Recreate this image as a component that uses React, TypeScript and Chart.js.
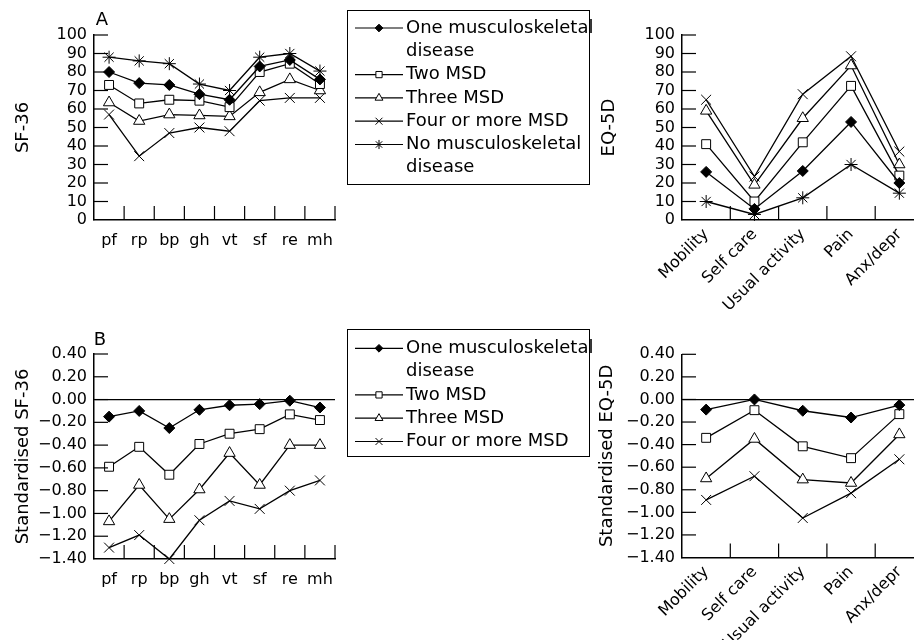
import React, { useEffect, useRef } from 'react';
import { Chart, registerables } from 'chart.js';
import { drawPoint } from 'chart.js/helpers';

Chart.register(...registerables);
Chart.defaults.font.family = '"DejaVu Sans", sans-serif';
Chart.defaults.color = '#000';

// ---------- data ----------
const SF_CATS = ['pf', 'rp', 'bp', 'gh', 'vt', 'sf', 're', 'mh'];
const EQ_CATS = ['Mobility', 'Self care', 'Usual activity', 'Pain', 'Anx/depr'];

const SERIES_NAMES = ['One musculoskeletal disease', 'Two MSD', 'Three MSD', 'Four or more MSD', 'No musculoskeletal disease'];
const LEGEND_LINES = [['One musculoskeletal', 'disease'], ['Two MSD'], ['Three MSD'], ['Four or more MSD'], ['No musculoskeletal', 'disease']];

const SF36_ONE = [80, 74, 73, 68, 65, 83, 86.5, 76];
const SF36_TWO = [73, 63, 65, 64.5, 61, 80, 84.5, 73.5];
const SF36_THREE = [63.5, 53.5, 57, 56.5, 56, 69, 76, 70];
const SF36_FOUR = [57, 34.5, 47, 50, 48, 64.5, 66, 66];
const SF36_NONE = [88, 86, 84.5, 73.5, 70, 88, 90, 80.5];

const EQ_ONE = [26, 6, 26.5, 53, 20];
const EQ_TWO = [41, 10, 42, 72.5, 24];
const EQ_THREE = [59, 19, 55, 83.5, 30];
const EQ_FOUR = [65, 23.5, 68, 88.5, 37];
const EQ_NONE = [10, 3, 12, 30, 14.5];

const STD_SF36_ONE = [-0.15, -0.1, -0.25, -0.09, -0.05, -0.04, -0.01, -0.07];
const STD_SF36_TWO = [-0.59, -0.415, -0.66, -0.39, -0.3, -0.26, -0.13, -0.18];
const STD_SF36_THREE = [-1.07, -0.75, -1.05, -0.79, -0.47, -0.75, -0.4, -0.4];
const STD_SF36_FOUR = [-1.3, -1.19, -1.4, -1.06, -0.89, -0.96, -0.8, -0.71];

const STD_EQ_ONE = [-0.09, 0.0, -0.1, -0.16, -0.05];
const STD_EQ_TWO = [-0.34, -0.095, -0.415, -0.52, -0.13];
const STD_EQ_THREE = [-0.7, -0.35, -0.71, -0.74, -0.31];
const STD_EQ_FOUR = [-0.89, -0.68, -1.05, -0.83, -0.53];

const RAW_TICKS = [0, 10, 20, 30, 40, 50, 60, 70, 80, 90, 100];
const STD_TICKS = [0.4, 0.2, 0, -0.2, -0.4, -0.6, -0.8, -1.0, -1.2, -1.4];

// ---------- styles ----------
const MARKERS = [
  { pointStyle: 'rectRot', radius: 5.5, bg: '#000' },
  { pointStyle: 'rect', radius: 6.3, bg: '#fff' },
  { pointStyle: 'triangle', radius: 6.5, bg: '#fff' },
  { pointStyle: 'crossRot', radius: 7, bg: '#fff' },
  { pointStyle: 'star', radius: 6.5, bg: '#fff' },
];

const fmtStd = (v: number) => (v < 0 ? '\u2212' + Math.abs(v).toFixed(2) : v.toFixed(2));

const decorPlugin = {
  id: 'decor',
  afterDraw(chart: any, _args: any, opts: any) {
    const ctx = chart.ctx;
    const { left, bottom } = chart.chartArea;
    const xs = chart.scales.x;
    const ys = chart.scales.y;
    ctx.save();
    ctx.strokeStyle = '#000';
    ctx.lineWidth = 1.2;
    // inward y ticks
    ys.ticks.forEach((t: any) => {
      const y = ys.getPixelForValue(t.value);
      if (Math.abs(y - bottom) < 1) return;
      ctx.beginPath();
      ctx.moveTo(left, y);
      ctx.lineTo(left + 14, y);
      ctx.stroke();
    });
    // inward x boundary ticks
    const n = xs.ticks.length;
    const half = (xs.getPixelForValue(1) - xs.getPixelForValue(0)) / 2;
    for (let i = 0; i < n; i++) {
      const x = xs.getPixelForValue(i) + half;
      ctx.beginPath();
      ctx.moveTo(x, bottom);
      ctx.lineTo(x, bottom - 14);
      ctx.stroke();
    }
    // panel letter
    if (opts.letter) {
      ctx.fillStyle = '#000';
      ctx.font = '18px "DejaVu Sans"';
      ctx.textAlign = 'center';
      ctx.textBaseline = 'middle';
      ctx.fillText(opts.letter.text, opts.letter.x, opts.letter.y);
    }
    // legend box
    if (opts.legend) {
      const L = opts.legend;
      ctx.lineWidth = 1;
      ctx.strokeRect(L.x + 0.5, L.y + 0.5, L.w, L.h);
      ctx.font = '18px "DejaVu Sans"';
      ctx.textAlign = 'left';
      ctx.textBaseline = 'middle';
      let row = 0;
      chart.data.datasets.forEach((ds: any) => {
        const y = L.firstY + row * L.rowH;
        ctx.strokeStyle = '#000';
        ctx.lineWidth = 1.2;
        ctx.beginPath();
        ctx.moveTo(L.lineX1, y);
        ctx.lineTo(L.lineX2, y);
        ctx.stroke();
        const m = MARKERS[ds.markerIndex];
        ctx.fillStyle = m.bg;
        ctx.lineWidth = 1;
        drawPoint(ctx, { pointStyle: m.pointStyle, radius: m.radius * 0.7, rotation: 0, borderWidth: 1 }, (L.lineX1 + L.lineX2) / 2, y);
        ctx.fillStyle = '#000';
        const lines = LEGEND_LINES[ds.markerIndex];
        lines.forEach((t: string, k: number) => {
          ctx.fillText(t, L.textX, y + k * L.rowH);
        });
        row += lines.length;
      });
    }
    ctx.restore();
  },
};

interface PanelSpec {
  cats: string[];
  series: { idx: number; data: number[] }[];
  min: number;
  max: number;
  ticks: number[];
  fmt: (v: number) => string;
  title: string;
  titlePad: number;
  W: number;
  H: number;
  area: { left: number; top: number; right: number; bottom: number };
  rotate: boolean;
  zeroLine: boolean;
  letter?: { text: string; x: number; y: number };
  legend?: any;
}

function buildConfig(p: PanelSpec): any {
  return {
    type: 'line',
    data: {
      labels: p.cats,
      datasets: p.series.map((s) => {
        const m = MARKERS[s.idx];
        return {
          label: SERIES_NAMES[s.idx],
          markerIndex: s.idx,
          data: s.data,
          borderColor: '#000',
          borderWidth: 1.3,
          pointStyle: m.pointStyle,
          pointRadius: m.radius,
          pointHoverRadius: m.radius,
          pointBackgroundColor: m.bg,
          pointBorderColor: '#000',
          pointBorderWidth: 1,
          tension: 0,
          clip: false,
          fill: false,
        };
      }),
    },
    options: {
      responsive: false,
      animation: false,
      events: [],
      layout: { padding: { top: p.area.top, right: p.W - p.area.right, left: 0, bottom: 0 } },
      plugins: {
        legend: { display: false },
        tooltip: { enabled: false },
        decor: { letter: p.letter, legend: p.legend },
      },
      scales: {
        x: {
          type: 'category',
          offset: true,
          grid: { display: false },
          border: { display: true, color: '#000', width: 1.5 },
          ticks: {
            autoSkip: false,
            color: '#000',
            font: { size: 16 },
            padding: p.rotate ? -3 : 3,
            minRotation: p.rotate ? 45 : 0,
            maxRotation: p.rotate ? 45 : 0,
          },
          afterFit: (s: any) => {
            s.height = p.H - p.area.bottom;
            s.paddingLeft = 0;
            s.paddingRight = 0;
          },
        },
        y: {
          type: 'linear',
          min: p.min,
          max: p.max,
          afterBuildTicks: (s: any) => {
            s.ticks = p.ticks.map((v) => ({ value: v }));
          },
          grid: {
            display: p.zeroLine,
            drawTicks: false,
            drawOnChartArea: true,
            lineWidth: 1.2,
            color: (c: any) => (c.tick && c.tick.value === 0 ? '#000' : 'rgba(0,0,0,0)'),
          },
          border: { display: true, color: '#000', width: 1.5 },
          ticks: {
            autoSkip: false,
            color: '#000',
            font: { size: 16 },
            padding: 7,
            callback: (v: any) => p.fmt(Number(v)),
          },
          title: {
            display: true,
            text: p.title,
            color: '#000',
            font: { size: 18 },
            padding: { top: p.titlePad, bottom: 0 },
          },
          afterFit: (s: any) => {
            s.width = p.area.left;
          },
        },
      },
    },
    plugins: [decorPlugin],
  };
}

const LEGEND_TOP = { x: 347, y: 10, w: 242, h: 174, firstY: 28, rowH: 23.3, lineX1: 355, lineX2: 403, textX: 406 };
const LEGEND_BOTTOM = { x: 347, y: 9, w: 242, h: 127, firstY: 28.3, rowH: 23.3, lineX1: 355, lineX2: 403, textX: 406 };

const PANELS: { left: number; top: number; spec: PanelSpec }[] = [
  {
    left: 0,
    top: 0,
    spec: {
      cats: SF_CATS,
      series: [
        { idx: 0, data: SF36_ONE },
        { idx: 1, data: SF36_TWO },
        { idx: 2, data: SF36_THREE },
        { idx: 3, data: SF36_FOUR },
        { idx: 4, data: SF36_NONE },
      ],
      min: 0,
      max: 100,
      ticks: RAW_TICKS,
      fmt: (v) => String(v),
      title: 'SF-36',
      titlePad: 13,
      W: 600,
      H: 320,
      area: { left: 94, top: 35, right: 335, bottom: 220 },
      rotate: false,
      zeroLine: false,
      letter: { text: 'A', x: 102, y: 20 },
      legend: LEGEND_TOP,
    },
  },
  {
    left: 580,
    top: 0,
    spec: {
      cats: EQ_CATS,
      series: [
        { idx: 0, data: EQ_ONE },
        { idx: 1, data: EQ_TWO },
        { idx: 2, data: EQ_THREE },
        { idx: 3, data: EQ_FOUR },
        { idx: 4, data: EQ_NONE },
      ],
      min: 0,
      max: 100,
      ticks: RAW_TICKS,
      fmt: (v) => String(v),
      title: 'EQ-5D',
      titlePad: 19,
      W: 360,
      H: 320,
      area: { left: 102, top: 35, right: 343.5, bottom: 220 },
      rotate: true,
      zeroLine: false,
    },
  },
  {
    left: 0,
    top: 320,
    spec: {
      cats: SF_CATS,
      series: [
        { idx: 0, data: STD_SF36_ONE },
        { idx: 1, data: STD_SF36_TWO },
        { idx: 2, data: STD_SF36_THREE },
        { idx: 3, data: STD_SF36_FOUR },
      ],
      min: -1.4,
      max: 0.4,
      ticks: STD_TICKS,
      fmt: fmtStd,
      title: 'Standardised SF-36',
      titlePad: 13,
      W: 600,
      H: 320,
      area: { left: 94, top: 34, right: 335, bottom: 239 },
      rotate: false,
      zeroLine: true,
      letter: { text: 'B', x: 100, y: 20 },
      legend: LEGEND_BOTTOM,
    },
  },
  {
    left: 580,
    top: 320,
    spec: {
      cats: EQ_CATS,
      series: [
        { idx: 0, data: STD_EQ_ONE },
        { idx: 1, data: STD_EQ_TWO },
        { idx: 2, data: STD_EQ_THREE },
        { idx: 3, data: STD_EQ_FOUR },
      ],
      min: -1.4,
      max: 0.4,
      ticks: STD_TICKS,
      fmt: fmtStd,
      title: 'Standardised EQ-5D',
      titlePad: 17,
      W: 360,
      H: 320,
      area: { left: 102, top: 34.3, right: 343.5, bottom: 237.5 },
      rotate: true,
      zeroLine: true,
    },
  },
];

function Panel({ left, top, spec }: { left: number; top: number; spec: PanelSpec }) {
  const ref = useRef<HTMLCanvasElement | null>(null);
  useEffect(() => {
    if (!ref.current) return;
    const chart = new Chart(ref.current, buildConfig(spec));
    return () => chart.destroy();
  }, []);
  return (
    <canvas
      ref={ref}
      width={spec.W}
      height={spec.H}
      style={{ position: 'absolute', left, top, width: spec.W, height: spec.H }}
    />
  );
}

export default function App() {
  return (
    <div
      style={{
        position: 'fixed',
        left: 0,
        top: 0,
        width: 914,
        height: 640,
        overflow: 'hidden',
        background: '#fff',
      }}
    >
      {PANELS.map((p, i) => (
        <Panel key={i} left={p.left} top={p.top} spec={p.spec} />
      ))}
    </div>
  );
}
